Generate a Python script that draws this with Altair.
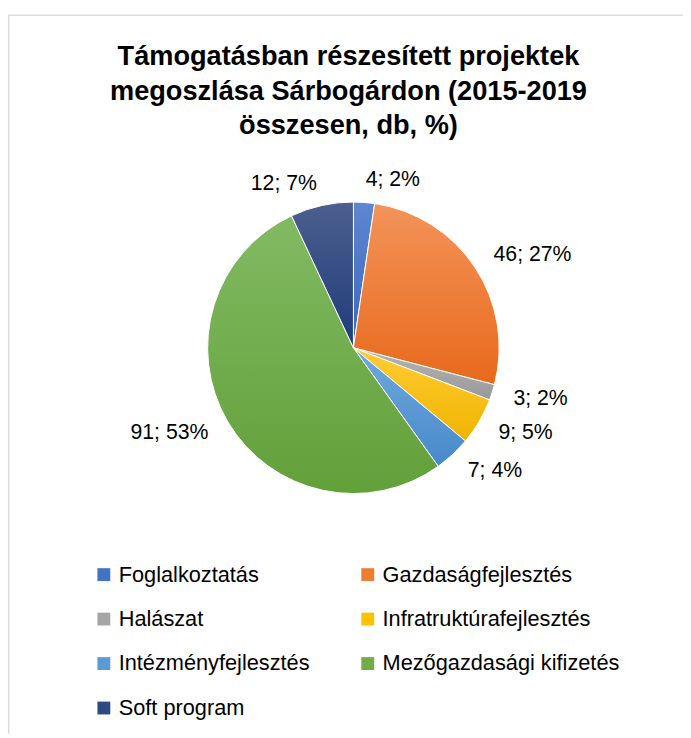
import altair as alt
import pandas as pd

# ---- data ----
categories = ["Foglalkoztatás", "Gazdaságfejlesztés", "Halászat", "Infratruktúrafejlesztés",
              "Intézményfejlesztés", "Mezőgazdasági kifizetés", "Soft program"]
counts = [4, 46, 3, 9, 7, 91, 12]
title_lines = ["Támogatásban részesített projektek",
               "megoszlása Sárbogárdon (2015-2019",
               "összesen, db, %)"]

# ---- styles ----
mid_colors = ["#4472C4", "#ED7D31", "#A5A5A5", "#FFC000", "#5B9BD5", "#70AD47", "#2B4A82"]
top_colors = ["#5E86D0", "#F3935A", "#B4B4B4", "#FFCC33", "#70A9DC", "#82BA63", "#4C5F8E"]
bot_colors = ["#3B67BC", "#E8691B", "#999999", "#F0B400", "#4889CB", "#62A039", "#1F3C7A"]

FONT = "Liberation Sans"
W, H = 683, 730
CX, CY = 349.5, 339.5
R = 147.5

df = pd.DataFrame({"cat": categories, "value": counts, "idx": list(range(len(categories)))})


def grad(t, b):
    return {"gradient": "linear", "x1": 0, "y1": 0, "x2": 0, "y2": 1,
            "stops": [{"offset": 0, "color": t}, {"offset": 1, "color": b}]}


conds = [{"test": f"datum.cat === '{c}'", "value": grad(t, b)}
         for c, t, b in zip(categories, top_colors, bot_colors)]

base = (
    alt.Chart(df)
    .transform_window(cum="sum(value)", sort=[alt.SortField("idx")], frame=[None, 0])
    .transform_joinaggregate(total="sum(value)")
    .transform_calculate(
        mid="(datum.cum - datum.value / 2) / datum.total",
        label="datum.value + '; ' + format(datum.value / datum.total, '.0%')",
    )
)

theta = alt.Theta("value:Q", stack=True)
order = alt.Order("idx:Q")

arcs = base.mark_arc(radius=R, stroke="white", strokeWidth=1).encode(
    theta=theta,
    order=order,
    x=alt.value(CX),
    y=alt.value(CY),
    fill=alt.Fill(
        "cat:N",
        scale=alt.Scale(domain=categories, range=mid_colors),
        sort=categories,
        condition=conds,
        legend=alt.Legend(
            title=None, orient="none", legendX=86, legendY=558, columns=2,
            direction="horizontal",
            symbolType="square", symbolSize=169, symbolStrokeWidth=0,
            labelFont=FONT, labelFontSize=22, labelColor="black", labelOffset=4,
            rowPadding=23, columnPadding=47, padding=0, gridAlign="each", labelLimit=400,
        ),
    ),
)

label_r = 170
text_right = base.mark_text(align="left", baseline="middle", radius=label_r, font=FONT,
                            fontSize=21.5, color="black").encode(
    theta=theta, order=order, x=alt.value(CX), y=alt.value(CY),
    text=alt.condition("datum.mid < 0.5", alt.Text("label:N"), alt.value("")),
)
text_left = base.mark_text(align="right", baseline="middle", radius=label_r, font=FONT,
                           fontSize=21.5, color="black").encode(
    theta=theta, order=order, x=alt.value(CX), y=alt.value(CY),
    text=alt.condition("datum.mid >= 0.5", alt.Text("label:N"), alt.value("")),
)

frame_data = alt.Data(values=[{}])
rule_top = alt.Chart(frame_data).mark_rule(color="#D9DDE3", strokeWidth=1.5).encode(
    x=alt.value(0), x2=alt.value(W), y=alt.value(3)
)
rule_left = alt.Chart(frame_data).mark_rule(color="#D9DDE3", strokeWidth=1.5).encode(
    x=alt.value(0.75), y=alt.value(3), y2=alt.value(H)
)

chart = (
    alt.layer(rule_top, rule_left, arcs, text_right, text_left)
    .properties(
        width=W, height=H, padding=0, autosize=alt.AutoSizeParams(type="none"),
        background="white",
        title=alt.TitleParams(
            text=title_lines, font=FONT, fontSize=27.5, fontWeight="bold", color="black",
            anchor="middle", frame="group", lineHeight=35, offset=0, dy=129, dx=3,
        ),
    )
    .configure_view(strokeWidth=0)
)

chart.save("out.html", embed_options={"renderer": "svg", "actions": False})
